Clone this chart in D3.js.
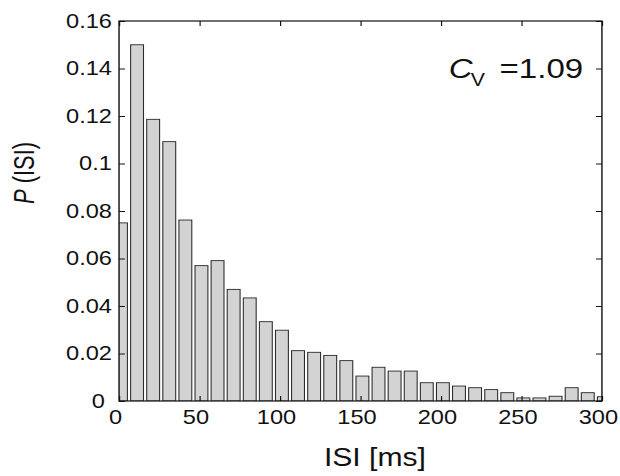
<!DOCTYPE html>
<html>
<head>
<meta charset="utf-8">
<script src="https://cdn.jsdelivr.net/npm/d3@7"></script>
<style>
  body { margin: 0; background: #fff; }
  svg { display: block; }
  text { font-family: "Liberation Sans", Arial, Helvetica, sans-serif; fill: #111; }
</style>
</head>
<body>
<div id="chart"></div>
<script>
// bin centres (ms) and probabilities
var binCenters = [1.2, 11.2, 21.2, 31.2, 41.2, 51.2, 61.2, 71.2, 81.2, 91.2,
  101.2, 111.2, 121.2, 131.2, 141.2, 151.2, 161.2, 171.2, 181.2, 191.2,
  201.2, 211.2, 221.2, 231.2, 241.2, 251.2, 261.2, 271.2, 281.2, 291.2, 301.2];
var probs = [0.075, 0.150, 0.1186, 0.1092, 0.0762, 0.0570, 0.0591, 0.0470, 0.0434, 0.0334,
  0.0298, 0.0212, 0.0205, 0.0192, 0.0170, 0.0105, 0.0142, 0.0126, 0.0126, 0.0077,
  0.0077, 0.0063, 0.0056, 0.0048, 0.0035, 0.0013, 0.0013, 0.0020, 0.0056, 0.0035, 0.0018];
var xTicks = [0, 50, 100, 150, 200, 250, 300];
var xTickLabels = ["0", "50", "100", "150", "200", "250", "300"];
var yTicks = [0, 0.02, 0.04, 0.06, 0.08, 0.1, 0.12, 0.14, 0.16];
var yTickLabels = ["0", "0.02", "0.04", "0.06", "0.08", "0.1", "0.12", "0.14", "0.16"];
var binWidth = 8; // bar width in ms (MATLAB bar width 0.8 of 10 ms bins)

// the figure is horizontally stretched, so draw in a narrower box and stretch it
var svgWidth = 620, svgHeight = 476;
var vbWidth = 525;
var margin = { top: 21, right: vbWidth - 509.7, bottom: svgHeight - 401, left: 100.8 };
var width = vbWidth - margin.left - margin.right;
var height = svgHeight - margin.top - margin.bottom;

var svg = d3.select("#chart").append("svg")
  .attr("width", svgWidth)
  .attr("height", svgHeight)
  .attr("viewBox", `0 0 ${vbWidth} ${svgHeight}`)
  .attr("preserveAspectRatio", "none");

var chartGroup = svg.append("g")
  .attr("transform", `translate(${margin.left}, ${margin.top})`);

var xScale = d3.scaleLinear().domain([0, 300]).range([0, width]);
var yScale = d3.scaleLinear().domain([0, 0.16]).range([height, 0]);

chartGroup.append("clipPath").attr("id", "plotClip")
  .append("rect").attr("width", width).attr("height", height);

// bars
chartGroup.append("g")
  .attr("clip-path", "url(#plotClip)")
  .selectAll("rect")
  .data(probs)
  .enter()
  .append("rect")
  .attr("x", (d, i) => xScale(binCenters[i] - binWidth / 2))
  .attr("width", xScale(binWidth) - xScale(0))
  .attr("y", d => yScale(d))
  .attr("height", d => yScale(0) - yScale(d))
  .attr("fill", "#d3d3d3")
  .attr("stroke", "#2a2a2a")
  .attr("stroke-width", 0.9);

// axes, ticks pointing inward on all four sides
var bottomAxis = d3.axisBottom(xScale).tickValues(xTicks)
  .tickFormat((d, i) => xTickLabels[i]).tickSize(-5).tickPadding(9);
var topAxis = d3.axisTop(xScale).tickValues(xTicks).tickFormat("").tickSize(-5);
var leftAxis = d3.axisLeft(yScale).tickValues(yTicks)
  .tickFormat((d, i) => yTickLabels[i]).tickSize(-5).tickPadding(6);
var rightAxis = d3.axisRight(yScale).tickValues(yTicks).tickFormat("").tickSize(-5);

var xAxis = chartGroup.append("g").attr("transform", `translate(0, ${height})`).call(bottomAxis);
chartGroup.append("g").call(topAxis);
var yAxis = chartGroup.append("g").call(leftAxis);
chartGroup.append("g").attr("transform", `translate(${width}, 0)`).call(rightAxis);

chartGroup.selectAll(".domain").remove();
chartGroup.selectAll(".tick line").attr("stroke", "#111").attr("stroke-width", 1);
chartGroup.selectAll(".tick text").attr("font-size", "20px").attr("fill", "#111")
  .attr("font-family", "Liberation Sans, Arial, sans-serif");
xAxis.selectAll(".tick text").attr("dx", -3.5);
// MATLAB places the 0 of the y axis a little further left
yAxis.selectAll(".tick text").filter(d => d === 0).attr("dx", -6);

// box
chartGroup.append("rect")
  .attr("width", width).attr("height", height)
  .attr("fill", "none").attr("stroke", "#111").attr("stroke-width", 1.2);

// axis titles
svg.append("text")
  .attr("x", 317.5).attr("y", 466)
  .attr("text-anchor", "middle")
  .attr("font-size", "25.5px")
  .text("ISI [ms]");

var yTitle = svg.append("text")
  .attr("transform", "translate(28.5, 173) rotate(-90)")
  .attr("text-anchor", "middle")
  .attr("font-size", "25.5px")
  .attr("textLength", 62)
  .attr("lengthAdjust", "spacingAndGlyphs");
yTitle.append("tspan").attr("font-style", "italic").text("P");
yTitle.append("tspan").text(" (ISI)");

// coefficient of variation label
var cvText = svg.append("text")
  .attr("x", 380).attr("y", 78)
  .attr("font-size", "28px");
cvText.append("tspan").attr("font-style", "italic").text("C");
cvText.append("tspan").attr("font-size", "18px").attr("dy", 8).attr("dx", -1.5).text("V");
cvText.append("tspan").attr("x", 423).attr("y", 78).text("=1.09");
</script>
</body>
</html>
